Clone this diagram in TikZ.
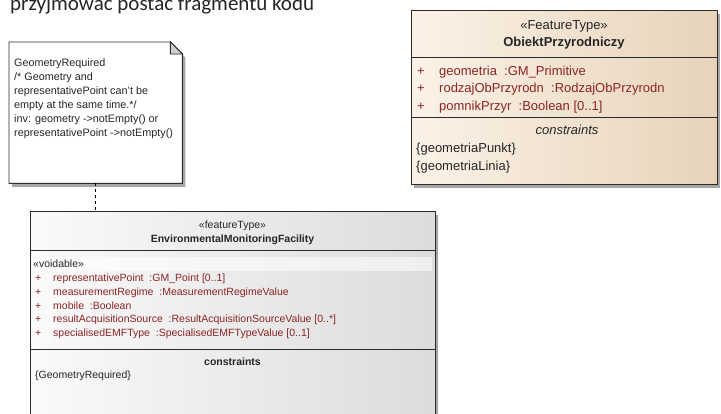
\documentclass[tikz,border=0pt]{standalone}
\usepackage{fontspec}
\setmainfont{Liberation Sans}
\newfontfamily\slidefont{Carlito}
\usepackage{xcolor}
\definecolor{umlRed}{HTML}{8E2424}
\definecolor{umlLine}{HTML}{2B2B2B}
\definecolor{umlText}{HTML}{262626}
\definecolor{featLeft}{HTML}{FBF2E7}
\definecolor{featRight}{HTML}{E7D3BA}
\definecolor{emfLeft}{HTML}{FAFAFA}
\definecolor{emfRight}{HTML}{DCDCDC}
\definecolor{umlShadow}{HTML}{A6A6A6}
\definecolor{foldGray}{HTML}{CFCFCF}
\usepackage{tikz}
\usetikzlibrary{positioning,shadows}
\tikzset{umlbox/.style={draw=umlLine, line width=0.9pt, anchor=north west, inner sep=0pt, drop shadow={shadow xshift=3pt, shadow yshift=-3.5pt, fill=umlShadow, opacity=1}}}
\tikzset{featurebox/.style={umlbox, left color=featLeft, right color=featRight}}
\tikzset{emfbox/.style={umlbox, left color=emfLeft, right color=emfRight}}
\tikzset{notebox/.style={anchor=north west, inner sep=0pt}}
\tikzset{sepline/.style={draw=umlLine, line width=0.9pt}}
\tikzset{dependency/.style={draw=black, line width=0.9pt, dash pattern=on 3pt off 3pt}}
\tikzset{bigrow/.style={inner xsep=0pt, inner ysep=1pt, text height=11pt, text depth=4pt, font=\fontsize{13}{17}\selectfont, text=umlText}}
\tikzset{bigattr/.style={bigrow, text=umlRed}}
\tikzset{smallrow/.style={inner xsep=0pt, inner ysep=0.75pt, text height=9pt, text depth=3pt, font=\fontsize{10.5}{13.5}\selectfont, text=umlText}}
\tikzset{smallattr/.style={smallrow, text=umlRed}}
\tikzset{noterow/.style={inner xsep=0pt, inner ysep=0.85pt, text height=9pt, text depth=3pt, font=\fontsize{10.8}{13.7}\selectfont, text=umlText}}
\newcommand{\umlattr}[2]{\makebox[#1][l]{+}#2}

\begin{document}
\begin{tikzpicture}[x=1pt, y=-1pt]
\useasboundingbox (0,0) rectangle (721,413);
\clip (0,0) rectangle (721,413);

%--------------------
% slide text, cut at the top
%--------------------
\node[anchor=base west, inner sep=0pt, font=\slidefont\fontsize{21}{25}\selectfont, text=umlText] (caption) at (10,10.5) {przyjmować postać fragmentu kodu};

%--------------------
% the OCL note
%--------------------
\node[notebox, minimum width=173pt, minimum height=141pt] (note) at (9,42) {};
\fill[umlShadow, transform canvas={shift={(3pt,-3.5pt)}}] (note.north west) -- ([xshift=-12pt]note.north east) -- ([yshift=-12pt]note.north east) -- (note.south east) -- (note.south west) -- cycle;
\draw[fill=white, draw=umlLine, line width=0.9pt] (note.north west) -- ([xshift=-12pt]note.north east) -- ([yshift=-12pt]note.north east) -- (note.south east) -- (note.south west) -- cycle;
\draw[fill=foldGray, draw=umlLine, line width=0.9pt] ([xshift=-12pt]note.north east) -- ([xshift=-12pt,yshift=-12pt]note.north east) -- ([yshift=-12pt]note.north east) -- cycle;
\node[noterow, anchor=base west] (geomreq) at (14,66.4) {GeometryRequired};
\node[noterow, below=0pt of geomreq.south west, anchor=north west] (comment1) {/* Geometry and};
\node[noterow, below=0pt of comment1.south west, anchor=north west] (comment2) {representativePoint can't be};
\node[noterow, below=0pt of comment2.south west, anchor=north west] (comment3) {empty at the same time.*/};
\node[noterow, below=0pt of comment3.south west, anchor=north west] (inv1) {inv: geometry ->notEmpty() or};
\node[noterow, below=0pt of inv1.south west, anchor=north west] (inv2) {representativePoint ->notEmpty()};

%--------------------
% ObiektPrzyrodniczy
%--------------------
\node[featurebox, minimum width=306pt, minimum height=174pt] (obiekt) at (411,10) {};
\node[bigrow, anchor=base] (obStereo) at (564,29.5) {«FeatureType»};
\node[bigrow, below=0pt of obStereo, font=\fontsize{13}{17}\selectfont\bfseries] (obName) {ObiektPrzyrodniczy};
\draw[sepline] (obiekt.west |- 0,57) -- (obiekt.east |- 0,57);
\node[bigattr, anchor=base west] (geometria) at (417,75.5) {\umlattr{22pt}{geometria\ \ :GM\_Primitive}};
\node[bigattr, below=0pt of geometria.south west, anchor=north west] (rodzaj) {\umlattr{22pt}{rodzajObPrzyrodn\ \ :RodzajObPrzyrodn}};
\node[bigattr, below=0pt of rodzaj.south west, anchor=north west] (pomnik) {\umlattr{22pt}{pomnikPrzyr\ \ :Boolean [0..1]}};
\draw[sepline] (obiekt.west |- 0,117) -- (obiekt.east |- 0,117);
\node[bigrow, anchor=base, font=\fontsize{13}{17}\selectfont\itshape] (obConstr) at (567,134.5) {constraints};
\node[bigrow, anchor=base west] (geoPunkt) at (416,152.5) {\{geometriaPunkt\}};
\node[bigrow, below=1pt of geoPunkt.south west, anchor=north west] (geoLinia) {\{geometriaLinia\}};

%--------------------
% EnvironmentalMonitoringFacility
%--------------------
\node[emfbox, minimum width=405pt, minimum height=230pt] (emf) at (30,211) {};
\node[smallrow, anchor=base] (emfStereo) at (232.5,228.7) {«featureType»};
\node[smallrow, below=0pt of emfStereo, font=\fontsize{10.5}{13.5}\selectfont\bfseries] (emfName) {EnvironmentalMonitoringFacility};
\draw[sepline] (emf.west |- 0,250) -- (emf.east |- 0,250);
\fill[white, opacity=0.55] (32,257) rectangle (432,271);
\node[smallrow, anchor=base west] (voidable) at (33,267.7) {«voidable»};
\node[smallattr, anchor=base west] (reprPoint) at (35,281.2) {\umlattr{18pt}{representativePoint\ \ :GM\_Point [0..1]}};
\node[smallattr, below=0pt of reprPoint.south west, anchor=north west] (measRegime) {\umlattr{18pt}{measurementRegime\ \ :MeasurementRegimeValue}};
\node[smallattr, below=0pt of measRegime.south west, anchor=north west] (mobile) {\umlattr{18pt}{mobile\ \ :Boolean}};
\node[smallattr, below=0pt of mobile.south west, anchor=north west] (resultSource) {\umlattr{18pt}{resultAcquisitionSource\ \ :ResultAcquisitionSourceValue [0..*]}};
\node[smallattr, below=0pt of resultSource.south west, anchor=north west] (emfType) {\umlattr{18pt}{specialisedEMFType\ \ :SpecialisedEMFTypeValue [0..1]}};
\draw[sepline] (emf.west |- 0,349) -- (emf.east |- 0,349);
\node[smallrow, anchor=base, font=\fontsize{10.5}{13.5}\selectfont\bfseries] (emfConstr) at (232.5,365.7) {constraints};
\node[smallrow, anchor=base west] (geomReqRef) at (35,378.7) {\{GeometryRequired\}};

% note attached to the class
\draw[dependency] (note.south) -- (note.south |- emf.north);
\end{tikzpicture}
\end{document}
